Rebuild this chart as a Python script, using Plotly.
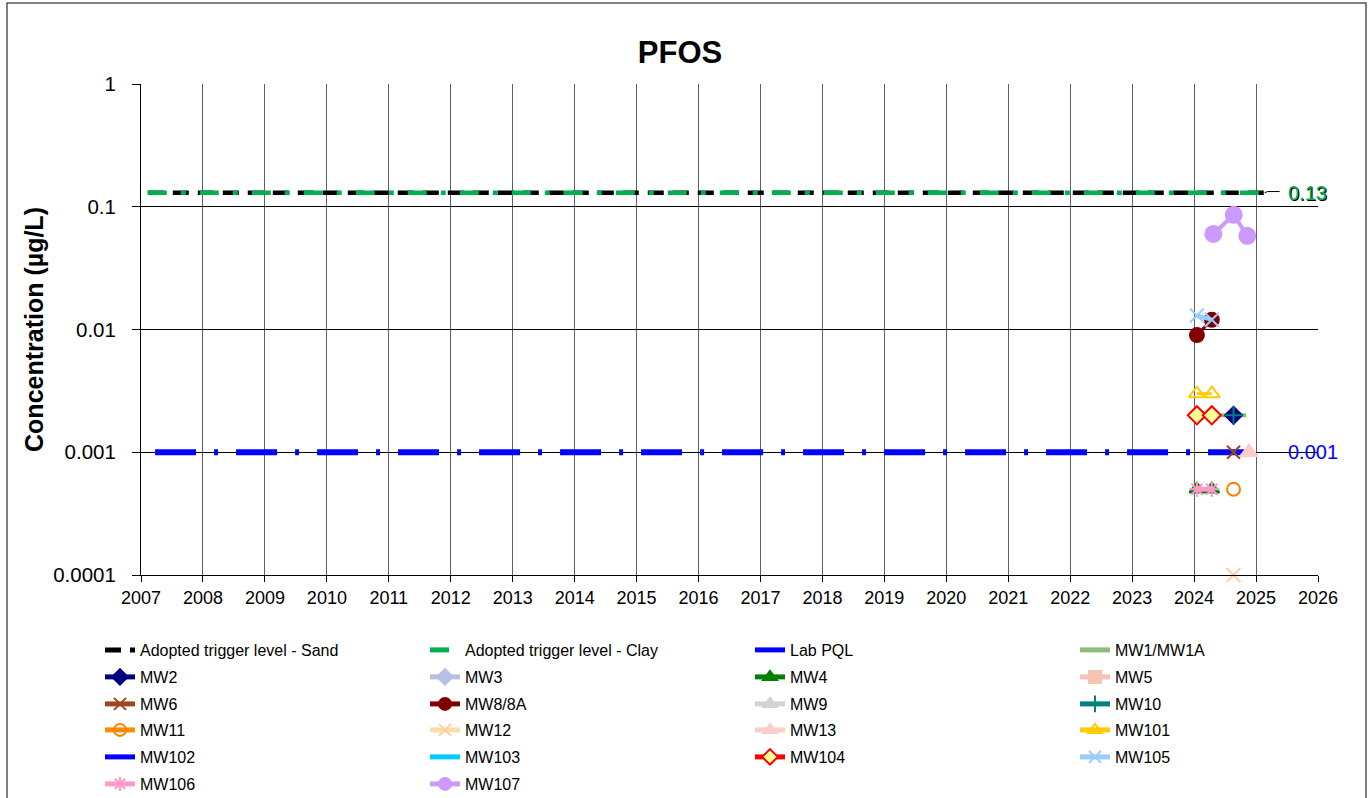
import math
import plotly.graph_objects as go

# ---- Guideline levels (µg/L) ----
trigger_dates = ["2007-02-10", "2025-02-20"]
trigger_sand = [0.13, 0.13]
trigger_clay = [0.13, 0.13]
pql_dates = ["2007-03-25", "2025-03-05"]
lab_pql = [0.001, 0.001]

# ---- Monitoring well results (µg/L) ----
d_jan = "2024-01-18"
d_apr = "2024-04-15"
d_aug = "2024-08-21"
d_nov = "2024-11-20"

mw1_dates, mw1_vals = [d_aug], [0.002]
mw2_dates, mw2_vals = [d_aug], [0.002]
mw3_dates, mw3_vals = [], []
mw4_dates, mw4_vals = [d_jan, d_apr], [0.0005, 0.0005]
mw5_dates, mw5_vals = [], []
mw6_dates, mw6_vals = [d_aug], [0.001]
mw8_dates, mw8_vals = [d_jan, d_apr], [0.009, 0.012]
mw9_dates, mw9_vals = [], []
mw10_dates, mw10_vals = [d_aug], [0.002]
mw11_dates, mw11_vals = [d_aug], [0.0005]
mw12_dates, mw12_vals = [d_aug], [0.0001]
mw13_dates, mw13_vals = [d_nov], [0.001]
mw101_dates, mw101_vals = [d_jan, d_apr], [0.003, 0.003]
mw102_dates, mw102_vals = [d_jan, d_apr], [0.0005, 0.0005]
mw103_dates, mw103_vals = [d_jan, d_apr], [0.0005, 0.0005]
mw104_dates, mw104_vals = [d_jan, d_apr], [0.002, 0.002]
mw105_dates, mw105_vals = [d_jan, d_apr], [0.013, 0.012]
mw106_dates, mw106_vals = [d_jan, d_apr], [0.0005, 0.0005]
mw107_dates, mw107_vals = ["2024-04-24", "2024-08-22", "2024-11-10"], [0.06, 0.086, 0.058]

year_ticks = [f"{y}-01-01" for y in range(2007, 2027)]
year_labels = [str(y) for y in range(2007, 2027)]
conc_ticks = [0.0001, 0.001, 0.01, 0.1, 1]
conc_labels = ["0.0001", "0.001", "0.01", "0.1", "1"]

fig = go.Figure()

fig.add_trace(go.Scatter(x=trigger_dates, y=trigger_sand, mode="lines",
                         name="Adopted trigger level - Sand",
                         line=dict(color="black", width=4.5, dash="16px,9px")))
fig.add_trace(go.Scatter(x=trigger_dates, y=trigger_clay, mode="lines",
                         name="Adopted trigger level - Clay",
                         line=dict(color="#00B050", width=4.5, dash="19px,14px,5px,14px")))
fig.add_trace(go.Scatter(x=pql_dates, y=lab_pql, mode="lines", name="Lab PQL",
                         line=dict(color="#0000FF", width=6, dash="41px,18px,4px,18px")))

# (name, dates, values, line colour, line width, marker symbol, marker size, fill, outline)
wells = [
    ("MW1/MW1A", mw1_dates, mw1_vals, "#8FBC7A", 5, "line-ew", 18, "#8FBC7A", "#8FBC7A"),
    ("MW2", mw2_dates, mw2_vals, "#000080", 3, "diamond", 13, "#000080", "#000080"),
    ("MW3", mw3_dates, mw3_vals, "#B4C1E2", 5, "diamond", 10, "#B4C1E2", "#B4C1E2"),
    ("MW4", mw4_dates, mw4_vals, "#008000", 3, "triangle-up", 13, "#008000", "#008000"),
    ("MW5", mw5_dates, mw5_vals, "#F6C3B0", 5, "square", 11, "#F6C3B0", "#F6C3B0"),
    ("MW6", mw6_dates, mw6_vals, "#A0461E", 3, "x-thin", 13, "#A0461E", "#A0461E"),
    ("MW8/8A", mw8_dates, mw8_vals, "#800000", 3, "circle", 14, "#800000", "#800000"),
    ("MW9", mw9_dates, mw9_vals, "#D3D3D3", 5, "triangle-up", 11, "#D3D3D3", "#D3D3D3"),
    ("MW10", mw10_dates, mw10_vals, "#008080", 3, "cross-thin", 13, "#008080", "#008080"),
    ("MW11", mw11_dates, mw11_vals, "#FF8C00", 3, "circle-open", 13, "#FF7F00", "#FF7F00"),
    ("MW12", mw12_dates, mw12_vals, "#FFDDAA", 5, "x-thin", 14, "#FFD0A0", "#FFD0A0"),
    ("MW13", mw13_dates, mw13_vals, "#FFCCCC", 5, "triangle-up", 15, "#FFCCCC", "#FFCCCC"),
    ("MW101", mw101_dates, mw101_vals, "#FFCC00", 3, "triangle-up-open", 14, "#FFCC00", "#FFCC00"),
    ("MW102", mw102_dates, mw102_vals, "#0000FF", 3, "line-ew", 8, "#0000FF", "#0000FF"),
    ("MW103", mw103_dates, mw103_vals, "#00CCFF", 3, "line-ew", 8, "#00CCFF", "#00CCFF"),
    ("MW104", mw104_dates, mw104_vals, "#FF0000", 3, "diamond", 14, "#FFFF99", "#FF0000"),
    ("MW105", mw105_dates, mw105_vals, "#99CCFF", 4, "x-thin", 14, "#99CCFF", "#99CCFF"),
    ("MW106", mw106_dates, mw106_vals, "#FF99CC", 5, "asterisk", 13, "#FF99CC", "#FF99CC"),
    ("MW107", mw107_dates, mw107_vals, "#CC99FF", 4, "circle", 16, "#CC99FF", "#CC99FF"),
]

for name, xs, ys, col, lw, sym, ms, fill, edge in wells:
    marker_w = 4 if sym == "line-ew" and name.startswith("MW1/") else 2
    marker = dict(symbol=sym, size=ms, color=fill,
                  line=dict(color=edge, width=marker_w))
    fig.add_trace(go.Scatter(x=xs if xs else [None], y=ys if ys else [None],
                             mode="lines+markers", name=name, cliponaxis=False,
                             line=dict(color=col, width=lw), marker=marker))

# Legend: 4 columns x 6 rows, one small legend box per entry
plot_l, plot_r, plot_t, plot_b = 141, 1318, 84, 575
plot_w, plot_h = plot_r - plot_l, plot_b - plot_t
col_text_px = [140, 465, 790, 1115]
row_px = [650, 677, 704, 730, 757, 784]
legend_layouts = {}
n_entries = len(fig.data)
for i in range(n_entries):
    key = "legend" if i == 0 else f"legend{i + 1}"
    fig.data[i].legend = key
    r, c = divmod(i, 4)
    legend_layouts[key] = dict(
        x=(col_text_px[c] - 40 - plot_l) / plot_w, xanchor="left",
        y=(plot_b - row_px[r]) / plot_h, yanchor="middle",
        orientation="h", itemsizing="constant",
        font=dict(size=16, color="black"), bgcolor="rgba(0,0,0,0)",
        borderwidth=0,
    )

# leader to the trigger-level label
fig.add_trace(go.Scatter(x=["2025-02-20", "2025-03-10", "2025-05-20"],
                         y=[0.13, 0.133, 0.133], mode="lines", showlegend=False,
                         hoverinfo="skip", line=dict(color="black", width=1)))

lbl_x = "2025-06-25"
fig.add_annotation(x=lbl_x, y=math.log10(0.13), text="0.13", showarrow=False,
                   xanchor="left", xshift=1, yshift=-1, font=dict(size=20, color="black"))
fig.add_annotation(x=lbl_x, y=math.log10(0.13), text="0.13", showarrow=False,
                   xanchor="left", font=dict(size=20, color="#00B050"))
fig.add_annotation(x=lbl_x, y=math.log10(0.001), text="0.001", showarrow=False,
                   xanchor="left", font=dict(size=20, color="#0000FF"))

fig.update_layout(
    width=1371, height=798,
    margin=dict(l=plot_l, r=1371 - plot_r, t=plot_t, b=798 - plot_b, autoexpand=False),
    paper_bgcolor="white", plot_bgcolor="white",
    font=dict(family="Arial, Liberation Sans, sans-serif", color="black"),
    title=dict(text="<b>PFOS</b>", x=0.496, xanchor="center", y=0.935, yanchor="middle",
               font=dict(size=31, color="black")),
    xaxis=dict(type="date", range=["2007-01-01", "2026-01-01"],
               tickvals=year_ticks, ticktext=year_labels,
               showgrid=True, gridcolor="#5F5F5F", gridwidth=1,
               showline=True, linecolor="black", linewidth=1,
               ticks="outside", ticklen=6, tickcolor="black",
               tickfont=dict(size=18), zeroline=False),
    yaxis=dict(type="log", range=[-4, 0], tickvals=conc_ticks, ticktext=conc_labels,
               showgrid=True, gridcolor="black", gridwidth=1,
               showline=True, linecolor="black", linewidth=1,
               ticks="outside", ticklen=8, tickcolor="black",
               ticklabelstandoff=12,
               tickfont=dict(size=20.5),
               title=dict(text="<b>Concentration (µg/L)</b>", font=dict(size=25), standoff=2)),
    shapes=[dict(type="rect", xref="paper", yref="paper",
                 x0=(7 - plot_l) / plot_w, x1=(1366 - plot_l) / plot_w,
                 y0=(plot_b - 820) / plot_h, y1=(plot_b - 3) / plot_h,
                 line=dict(color="#555555", width=1.5))],
    **legend_layouts,
)

fig.write_html("out.html")
